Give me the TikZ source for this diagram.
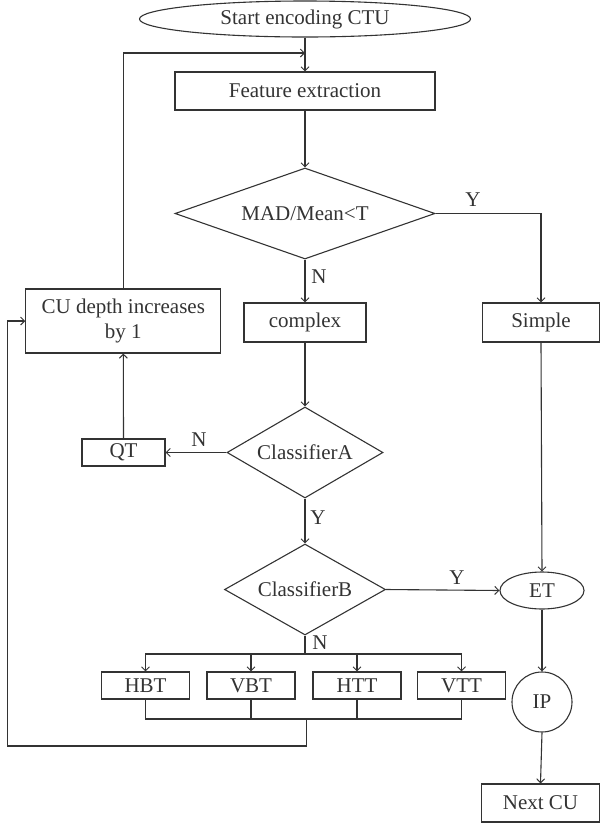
\documentclass[tikz,border=0pt]{standalone}
\usepackage{fontspec}
\setmainfont{Liberation Serif}
\usetikzlibrary{shapes.geometric,arrows.meta}

\definecolor{ink}{HTML}{333333}

\tikzset{
  base/.style={draw=ink, line width=1.1pt, text=ink, inner sep=0pt,
               font=\fontsize{21}{25}\selectfont, align=center},
  procbox/.style={base, rectangle},
  decision/.style={base, diamond},
  terminal/.style={base, ellipse},
  connector/.style={base, circle},
  wire/.style={draw=ink, line width=1.1pt},
  arr/.style={wire, -{Straight Barb[length=4pt,width=8pt,line width=1pt]}},
  lbl/.style={text=ink, font=\fontsize{21}{25}\selectfont, inner sep=0pt}
}

\begin{document}
\begin{tikzpicture}[x=1pt,y=-1pt]
\useasboundingbox (0,0) rectangle (600,823);

% nodes
\node[terminal, minimum width=331pt, minimum height=36pt] (start) at (305,19) {Start encoding CTU};
\node[procbox, minimum width=260pt, minimum height=38pt] (feat) at (305,91) {Feature extraction};
\node[decision, shape aspect=2.86, minimum width=260pt, minimum height=91pt] (mad) at (305,213.5) {MAD/Mean<T};
\node[procbox, minimum width=122pt, minimum height=39pt] (complex) at (305,322.5) {complex};
\node[procbox, minimum width=117pt, minimum height=39pt] (simple) at (541,322.5) {Simple};
\node[procbox, minimum width=195pt, minimum height=64pt] (cu) at (123.3,321) {CU depth increases\\by 1};
\node[procbox, minimum width=83pt, minimum height=27pt] (qt) at (123.5,452.5) {QT};
\node[decision, shape aspect=1.71, minimum width=156pt, minimum height=91pt] (clA) at (305,452.5) {ClassifierA};
\node[decision, shape aspect=1.77, minimum width=161pt, minimum height=91pt] (clB) at (305,589.5) {ClassifierB};
\node[terminal, minimum width=84pt, minimum height=37pt] (et) at (542,590.5) {ET};
\node[procbox, minimum width=88pt, minimum height=27pt] (hbt) at (145.5,685.5) {HBT};
\node[procbox, minimum width=88pt, minimum height=27pt] (vbt) at (251,685.5) {VBT};
\node[procbox, minimum width=88pt, minimum height=27pt] (htt) at (357,685.5) {HTT};
\node[procbox, minimum width=88pt, minimum height=27pt] (vtt) at (461.5,685.5) {VTT};
\node[connector, minimum size=60pt] (ip) at (542,702) {IP};
\node[procbox, minimum width=118pt, minimum height=38pt] (next) at (540.5,803) {Next CU};

% junction points
\coordinate (loopin) at (305,53);
\coordinate (split) at (305,654);
\coordinate (merge) at (306.7,719);
\coordinate (lowleft) at (7.5,746);

% main flow
\draw[arr] (start) -- (feat);
\draw[arr] (feat) -- (mad);
\draw[arr] (mad.east) -| (simple.north);
\draw[arr] (mad.south) -- (complex.north);
\draw[arr] (complex.south) -- (clA.north);
\draw[arr] (clA.west) -- (qt.east);
\draw[arr] (qt.north) -- (cu.south);
\draw[arr] (cu.north) |- (loopin);
\draw[arr] (clA.south) -- (clB.north);
\draw[arr] (clB.east) -- (et.west);
\draw[arr] (simple.south) -- (et.north);
\draw[arr] (et.south) -- (ip.north);
\draw[arr] (ip.south) -- (next.north);

% split into the four partition modes
\draw[wire] (clB.south) -- (split);
\draw[arr] (split) -| (hbt.north);
\draw[arr] (split) -| (vbt.north);
\draw[arr] (split) -| (htt.north);
\draw[arr] (split) -| (vtt.north);

% merge back to the depth increment
\draw[wire] (hbt.south) |- (vtt.south |- merge) -- (vtt.south);
\draw[wire] (vbt.south) -- (vbt.south |- merge);
\draw[wire] (htt.south) -- (htt.south |- merge);
\draw[arr] (merge) |- (lowleft) |- (cu.west);

% branch labels
\node[lbl] (ymad) at (473,200) {Y};
\node[lbl] (nmad) at (319,277) {N};
\node[lbl] (nA) at (199,440) {N};
\node[lbl] (yA) at (318,518) {Y};
\node[lbl] (yB) at (457,578) {Y};
\node[lbl] (nB) at (320,643) {N};
\end{tikzpicture}
\end{document}
